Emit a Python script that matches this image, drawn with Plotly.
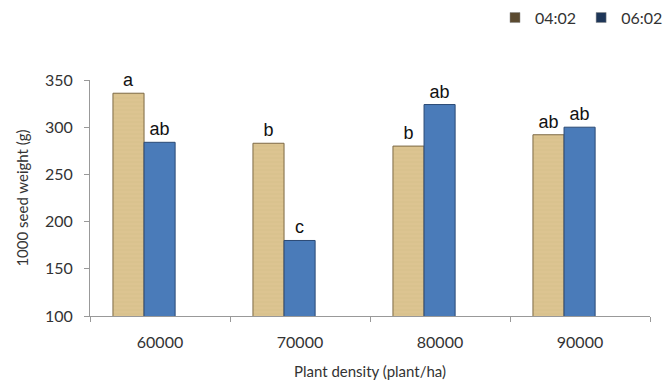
import plotly.graph_objects as go

categories = ["60000", "70000", "80000", "90000"]
series_a = [336, 283, 280, 292]
series_b = [284, 180, 324, 300]
labels_a = ["a", "b", "b", "ab"]
labels_b = ["ab", "c", "ab", "ab"]
y_ticks = [100, 150, 200, 250, 300, 350]
legend_names = ["04:02", "06:02"]
legend_colors = ["#5b4a30", "#1e3658"]

BAR_W = 0.222
fig = go.Figure()
fig.add_trace(go.Bar(
    x=categories, y=series_a, name="04:02", showlegend=False,
    width=BAR_W, offset=-0.336,
    marker=dict(color="#dcc491", line=dict(color="#7d6a45", width=1),
                pattern=dict(shape="-", fgcolor="#c9b07a", size=4, solidity=0.15)),
    text=labels_a, textposition="outside", cliponaxis=False,
    textfont=dict(family="Liberation Sans, Arial", size=18, color="#111"),
))
fig.add_trace(go.Bar(
    x=categories, y=series_b, name="06:02", showlegend=False,
    width=BAR_W, offset=-0.114,
    marker=dict(color="#4a7bb9", line=dict(color="#2b4a75", width=1)),
    text=labels_b, textposition="outside", cliponaxis=False,
    textfont=dict(family="Liberation Sans, Arial", size=18, color="#111"),
))
for name, col in zip(legend_names, legend_colors):
    fig.add_trace(go.Scatter(
        x=[None], y=[None], mode="markers", name=name,
        marker=dict(symbol="square", size=10, color=col, line=dict(color="#888", width=0.5)),
    ))

fig.update_layout(
    width=668, height=392,
    margin=dict(l=90, r=18, t=80, b=76, autoexpand=False),
    paper_bgcolor="white", plot_bgcolor="white",
    barmode="overlay",
    font=dict(family="Lato, Open Sans, sans-serif", size=15, color="#333"),
    showlegend=True,
    legend=dict(orientation="h", xref="container", yref="container",
                x=1.0, xanchor="right", y=0.955, yanchor="middle",
                font=dict(size=16), traceorder="normal", itemwidth=30,
                tracegroupgap=0),
)
fig.update_xaxes(
    showline=True, linecolor="#999", linewidth=1,
    ticks="outside", tickson="boundaries", ticklen=5, tickcolor="#999",
    ticklabelstandoff=12, tickfont=dict(size=16),
    title=dict(text="Plant density (plant/ha)", standoff=16, font=dict(size=15)),
    showgrid=False,
)
fig.update_yaxes(
    range=[100, 350], tickvals=y_ticks, showline=True, linecolor="#999", linewidth=1,
    ticks="outside", ticklen=5, tickcolor="#999", showgrid=False, zeroline=False,
    ticklabelstandoff=8, tickfont=dict(size=16),
    title=dict(text="1000 seed weight (g)", standoff=12, font=dict(size=15)),
)

fig.write_html("out.html")
